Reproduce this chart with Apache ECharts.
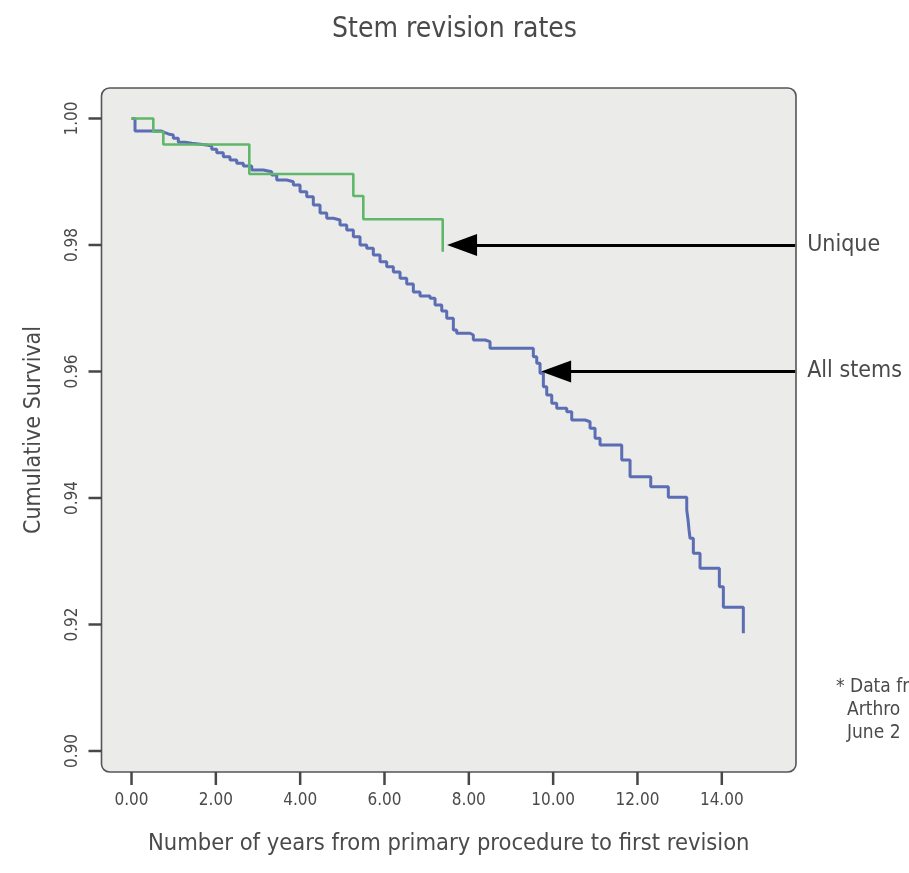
<!DOCTYPE html>
<html>
<head>
<meta charset="utf-8">
<title>Stem revision rates</title>
<script src="https://cdn.jsdelivr.net/npm/echarts@6/dist/echarts.min.js"></script>
<style type="text/css">
html,body{margin:0;padding:0;background:#fff;}
#chart{width:909px;height:873px;}
</style>
</head>
<body>
<div id="chart"></div>
<script type="text/javascript">
// years / cumulative survival (Kaplan-Meier steps)
var allStemsYears = [0, 0.083, 0.700, 0.795, 0.873, 0.991, 1.110, 1.269, 1.428, 1.784, 1.902, 2.021, 2.177, 2.336, 2.495, 2.652, 2.851, 3.126, 3.325, 3.444, 3.681, 3.838, 3.997, 4.156, 4.312, 4.471, 4.630, 4.787, 4.945, 5.104, 5.261, 5.420, 5.579, 5.735, 5.894, 6.053, 6.210, 6.369, 6.527, 6.684, 6.843, 7.080, 7.199, 7.358, 7.476, 7.633, 7.713, 8.029, 8.107, 8.385, 8.503, 9.530, 9.611, 9.689, 9.768, 9.848, 9.967, 10.085, 10.323, 10.441, 10.757, 10.875, 10.994, 11.112, 11.627, 11.824, 12.315, 12.732, 13.169, 13.200, 13.223, 13.247, 13.325, 13.484, 13.942, 14.037, 14.511];
var allStemsSurvival = [1.0, 0.99802, 0.99776, 0.99755, 0.99739, 0.99687, 0.99624, 0.99608, 0.99581, 0.99565, 0.99513, 0.99459, 0.99396, 0.99344, 0.99292, 0.99249, 0.99186, 0.99159, 0.99107, 0.99028, 0.99001, 0.98949, 0.98843, 0.98764, 0.98632, 0.98506, 0.98422, 0.98395, 0.98316, 0.98237, 0.98131, 0.98000, 0.97948, 0.97842, 0.97736, 0.97657, 0.97573, 0.97474, 0.97383, 0.97257, 0.97194, 0.97157, 0.97051, 0.96957, 0.96841, 0.96656, 0.96604, 0.96577, 0.96498, 0.96471, 0.96367, 0.96234, 0.96130, 0.95972, 0.95760, 0.95628, 0.95497, 0.95418, 0.95364, 0.95233, 0.95206, 0.95102, 0.94944, 0.94838, 0.94601, 0.94337, 0.94179, 0.94011, 0.93810, 0.93652, 0.93494, 0.93363, 0.93126, 0.92889, 0.92598, 0.92272, 0.91861];

var uniqueYears = [0, 0.517, 0.754, 2.794, 5.261, 5.498, 7.381];
var uniqueSurvival = [1.0, 0.99791, 0.99589, 0.99123, 0.98775, 0.98406, 0.97894];

var xTicks = [0, 2, 4, 6, 8, 10, 12, 14];
var yTicks = [0.90, 0.92, 0.94, 0.96, 0.98, 1.00];

var footnoteLines = ['* Data fr', 'Arthro', 'June 2'];

var FONT = "'Liberation Sans Narrow', 'DejaVu Sans Condensed', sans-serif";
var TXT = '#4a4a4a';
var X_MIN = -0.712, X_MAX = 15.76, Y_MIN = 0.89668, Y_MAX = 1.00482;

function pairs(xs, ys) {
    var out = [];
    for (var i = 0; i < xs.length; i++) out.push([xs[i], ys[i]]);
    return out;
}

var chart = echarts.init(document.getElementById('chart'));

// outward tick marks, placed after layout through the chart's own scales
function tickMarks() {
    var out = [];
    xTicks.forEach(function (v) {
        var p = chart.convertToPixel({xAxisIndex: 0, yAxisIndex: 0}, [v, Y_MIN]);
        out.push({type: 'line', silent: true, z: 50,
            shape: {x1: p[0], y1: p[1], x2: p[0], y2: p[1] + 13},
            style: {stroke: '#474747', lineWidth: 2.5}});
    });
    yTicks.forEach(function (v) {
        var p = chart.convertToPixel({xAxisIndex: 0, yAxisIndex: 0}, [X_MIN, v]);
        out.push({type: 'line', silent: true, z: 50,
            shape: {x1: p[0] - 13, y1: p[1], x2: p[0], y2: p[1]},
            style: {stroke: '#474747', lineWidth: 2.5}});
    });
    return out;
}

var option = {
    backgroundColor: '#ffffff',
    animation: false,
    title: {
        text: 'Stem revision rates',
        left: 'center', top: 11,
        textStyle: {fontFamily: FONT, fontSize: 28, fontWeight: 'normal', color: TXT}
    },
    grid: {left: 101.5, top: 88, width: 694.5, height: 684, outerBoundsMode: 'none'},
    xAxis: {
        type: 'value', min: X_MIN, max: X_MAX,
        name: 'Number of years from primary procedure to first revision',
        nameLocation: 'middle', nameGap: 60,
        nameTextStyle: {fontFamily: FONT, fontSize: 23.5, color: TXT},
        axisLine: {show: false, onZero: false},
        splitLine: {show: false},
        axisTick: {show: false},
        axisLabel: {customValues: xTicks, margin: 20, fontFamily: FONT, fontSize: 17, color: TXT,
            formatter: function (v) { return v.toFixed(2); }}
    },
    yAxis: {
        type: 'value', min: Y_MIN, max: Y_MAX,
        name: 'Cumulative Survival',
        nameLocation: 'middle', nameGap: 56, nameRotate: 90,
        nameTextStyle: {fontFamily: FONT, fontSize: 23, color: TXT},
        axisLine: {show: false, onZero: false},
        splitLine: {show: false},
        axisTick: {show: false},
        axisLabel: {customValues: yTicks, rotate: 90, margin: 20, fontFamily: FONT, fontSize: 17, color: TXT,
            formatter: function (v) { return v.toFixed(2); }}
    },
    graphic: [
        {type: 'rect', z: -10, silent: true,
            shape: {x: 101.5, y: 88, width: 694.5, height: 684, r: 8},
            style: {fill: '#ebebea', stroke: '#555', lineWidth: 1.6}},
        {type: 'group', left: 836, top: 678, children: footnoteLines.map(function (t, i) {
            return {type: 'text', x: i === 0 ? 0 : 11, y: i * 23,
                style: {text: t, font: '19px ' + FONT, fill: TXT}};
        })}
    ],
    series: [
        {
            name: 'All stems', type: 'line', step: 'end', showSymbol: false,
            data: pairs(allStemsYears, allStemsSurvival),
            lineStyle: {color: '#5b6db3', width: 3},
            markLine: {
                silent: true, symbol: ['none', 'triangle'], symbolSize: [22, 30],
                lineStyle: {color: '#000', width: 3, type: 'solid'},
                label: {show: true, position: 'start', distance: 12, formatter: '{b}',
                    fontFamily: FONT, fontSize: 23, color: TXT},
                data: [
                    [{name: 'Unique', coord: [15.74, 0.98]}, {coord: [7.84, 0.98]}],
                    [{name: 'All stems', coord: [15.74, 0.96]}, {coord: [10.07, 0.96]}]
                ]
            }
        },
        {
            name: 'Unique', type: 'line', step: 'end', showSymbol: false,
            data: pairs(uniqueYears, uniqueSurvival),
            lineStyle: {color: '#5fb86a', width: 2.6}
        }
    ]
};
chart.setOption(option);
chart.setOption({graphic: option.graphic.concat(tickMarks())}, {replaceMerge: ['graphic']});
</script>
</body>
</html>
